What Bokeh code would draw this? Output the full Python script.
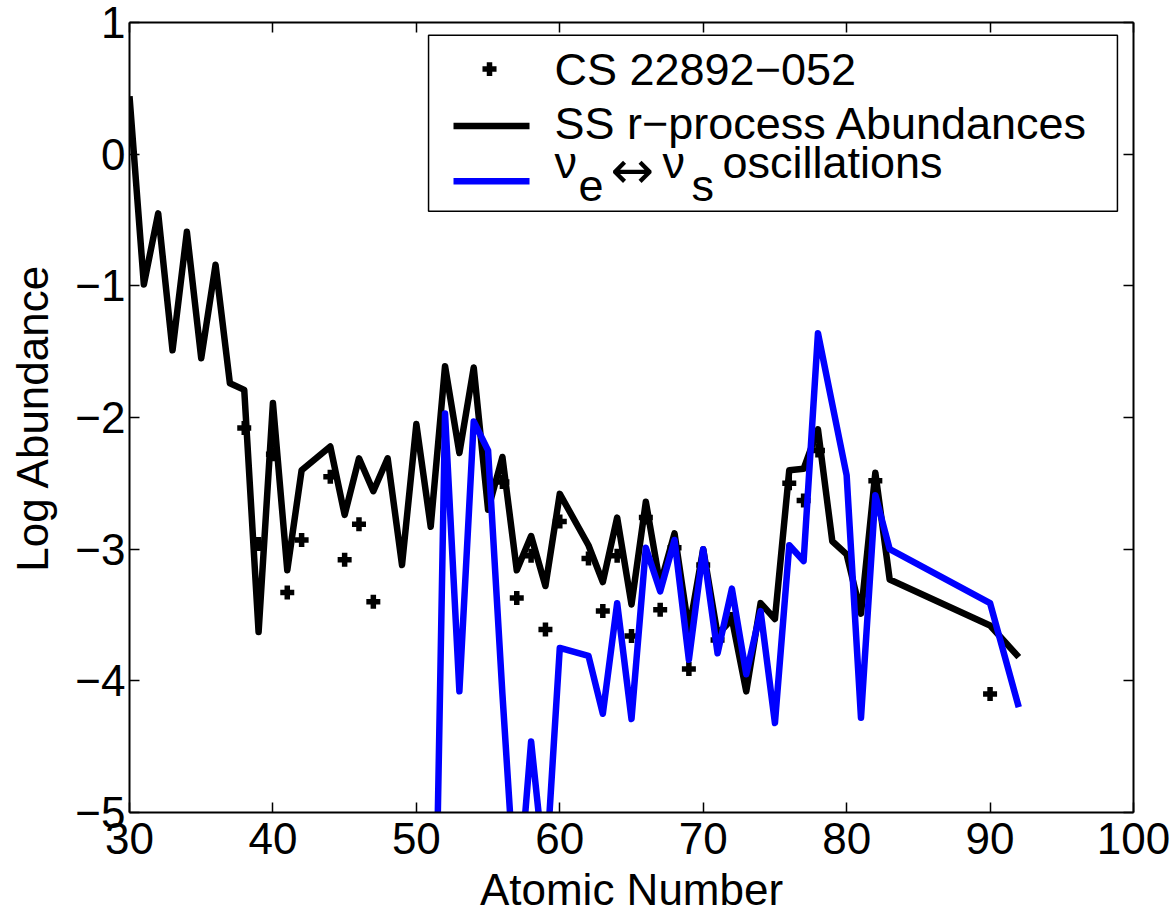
from bokeh.plotting import figure
from bokeh.models import Range1d, FixedTicker, LinearAxis, BoxAnnotation, Label, Arrow
from bokeh.embed import file_html
from bokeh.resources import INLINE

# ---------------- data ----------------
star_z = [38, 39, 40, 41, 42, 44, 45, 46, 47, 56, 57, 58, 59, 60, 62, 63, 64, 65,
          66, 67, 68, 69, 70, 71, 72, 76, 77, 78, 82, 90]
star_v = [-2.08, -2.96, -2.28, -3.33, -2.93, -2.45, -3.08, -2.81, -3.40, -2.49,
          -3.37, -3.05, -3.61, -2.79, -3.07, -3.47, -3.05, -3.66, -2.76, -3.46,
          -2.99, -3.91, -3.12, -3.69, -3.53, -2.50, -2.63, -2.25, -2.48, -4.10]

ss_z = [30, 31, 32, 33, 34, 35, 36, 37, 38, 39, 40, 41, 42, 44, 45, 46, 47, 48, 49,
        50, 51, 52, 53, 54, 55, 56, 57, 58, 59, 60, 62, 63, 64, 65, 66, 67, 68, 69,
        70, 71, 72, 73, 74, 75, 76, 77, 78, 79, 80, 81, 82, 83, 90, 92]
ss_v = [0.44, -0.99, -0.45, -1.49, -0.59, -1.55, -0.84, -1.74, -1.79, -3.63,
        -1.89, -3.16, -2.40, -2.22, -2.74, -2.31, -2.56, -2.31, -3.12, -2.05,
        -2.83, -1.61, -2.27, -1.62, -2.70, -2.30, -3.16, -2.90, -3.28, -2.58,
        -2.97, -3.25, -2.76, -3.42, -2.64, -3.27, -2.88, -3.62, -3.00, -3.65,
        -3.53, -4.08, -3.41, -3.53, -2.40, -2.39, -2.09, -2.94, -3.04, -3.49,
        -2.42, -3.23, -3.58, -3.82]

osc_z = [51, 52, 53, 54, 55, 56, 57, 58, 59, 60, 62, 63, 64, 65, 66, 67, 68, 69,
         70, 71, 72, 73, 74, 75, 76, 77, 78, 79, 80, 81, 82, 83, 90, 92]
osc_v = [-8.0, -1.97, -4.08, -2.03, -2.25, -4.10, -5.80, -4.46, -5.50, -3.75,
         -3.81, -4.25, -3.41, -4.29, -2.99, -3.32, -2.93, -3.84, -3.00, -3.79,
         -3.30, -3.95, -3.47, -4.32, -2.97, -3.09, -1.36, -1.90, -2.44, -4.28,
         -2.59, -3.00, -3.41, -4.20]

x_ticks = [30, 40, 50, 60, 70, 80, 90, 100]
y_ticks = [-5, -4, -3, -2, -1, 0, 1]
x_title = "Atomic Number"
y_title = "Log Abundance"
legend_star = "CS 22892\u2212052"
legend_ss = "SS r\u2212process Abundances"
legend_osc_parts = ["\u03bd", "e", "\u2194", "\u03bd", "s", "oscillations"]

FONT = "Liberation Sans"
BLUE = "#0000ff"

# ---------------- figure ----------------
p = figure(frame_width=1004, frame_height=790,
           x_range=Range1d(30, 100), y_range=Range1d(-5, 1),
           output_backend="svg", toolbar_location=None,
           min_border_left=129, min_border_right=40, min_border_top=22,
           min_border_bottom=100, background_fill_color="white",
           border_fill_color="white")
p.xgrid.visible = False
p.ygrid.visible = False
p.outline_line_color = None


def style_axis(ax, ticks, labels=True):
    ax.ticker = FixedTicker(ticks=ticks)
    ax.major_tick_in = 10
    ax.major_tick_out = 0
    ax.major_tick_line_width = 1.5
    ax.major_tick_line_color = "black"
    ax.minor_tick_line_color = None
    ax.axis_line_width = 2
    ax.axis_line_color = "black"
    if labels:
        ax.major_label_text_font = FONT
        ax.major_label_text_font_size = "44px"
        ax.major_label_text_color = "black"
        ax.axis_label_text_font = FONT
        ax.axis_label_text_font_size = "44px"
        ax.axis_label_text_font_style = "normal"
        ax.axis_label_text_color = "black"
    else:
        ax.major_label_text_font_size = "1px"
        ax.major_label_standoff = 0
        ax.major_label_overrides = {t: "" for t in ticks}


xa = p.xaxis[0]
ya = p.yaxis[0]
style_axis(xa, x_ticks)
style_axis(ya, y_ticks)
xa.axis_label = x_title
ya.axis_label = y_title
xa.major_label_standoff = 10
xa.axis_label_standoff = 8
ya.major_label_standoff = 4
ya.axis_label_standoff = 15
ya.major_label_overrides = {t: str(t).replace("-", "\u2212") for t in y_ticks}

top = LinearAxis()
style_axis(top, x_ticks, labels=False)
p.add_layout(top, "above")
right = LinearAxis()
style_axis(right, y_ticks, labels=False)
p.add_layout(right, "right")

# ---------------- data marks ----------------
p.scatter(star_z, star_v, marker="cross", size=14, line_width=5.5, line_color="black")
p.line(ss_z, ss_v, line_width=6.5, line_color="black", line_join="round")
p.line(osc_z, osc_v, line_width=6.5, line_color=BLUE, line_join="round")

# ---------------- legend (manual, to allow subscripts) ----------------
p.add_layout(BoxAnnotation(left=50.85, right=98.88, top=0.904, bottom=-0.433,
                           fill_color="white", fill_alpha=1.0,
                           line_color="black", line_width=1.5, line_alpha=1.0))

mx, my = 55.10, 0.646
p.add_layout(Arrow(x_start=mx - 0.49, x_end=mx + 0.49, y_start=my, y_end=my,
                   start=None, end=None, line_width=5.5, line_color="black"))
p.add_layout(Arrow(x_start=mx, x_end=mx, y_start=my - 0.053, y_end=my + 0.053,
                   start=None, end=None, line_width=5.5, line_color="black"))
p.add_layout(Arrow(x_start=52.59, x_end=57.89, y_start=0.213, y_end=0.213,
                   start=None, end=None, line_width=6.5, line_color="black"))
p.add_layout(Arrow(x_start=52.59, x_end=57.89, y_start=-0.205, y_end=-0.205,
                   start=None, end=None, line_width=6.5, line_color=BLUE))

tx = 59.63
for txt, yy in [(legend_star, 0.642), (legend_ss, 0.235)]:
    p.add_layout(Label(x=tx, y=yy, text=txt, text_font=FONT, text_font_size="45px",
                       text_color="black", text_baseline="middle", text_align="left"))

offsets = [0, 24, 56, 108, 137, 168]
ys = [-0.061, -0.235, -0.12, -0.061, -0.235, -0.061]
fonts = [FONT, FONT, "DejaVu Sans", FONT, FONT, FONT]
sizes = ["45px", "45px", "52px", "45px", "45px", "45px"]
for txt, off, yy, fnt, sz in zip(legend_osc_parts, offsets, ys, fonts, sizes):
    p.add_layout(Label(x=tx, y=yy, x_offset=off, text=txt, text_font=fnt,
                       text_font_size=sz, text_color="black",
                       text_baseline="middle", text_align="left"))

open("out.html", "w").write(file_html(p, INLINE))
